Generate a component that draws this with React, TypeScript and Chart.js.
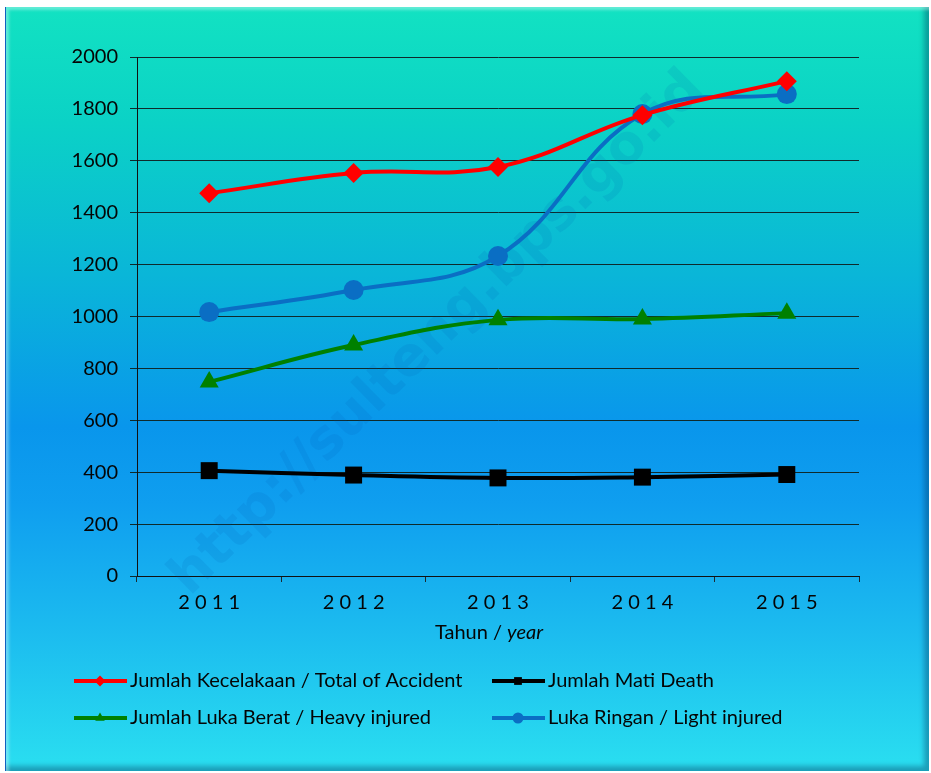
import { useEffect, useRef } from "react";
import { Chart, registerables } from "chart.js";

Chart.register(...registerables);

const years = ["2011", "2012", "2013", "2014", "2015"];
const totalAccident = [1475, 1553, 1576, 1776, 1907];
const deaths = [406, 389, 378, 381, 391];
const heavyInjured = [748, 890, 987, 990, 1013];
const lightInjured = [1017, 1102, 1233, 1780, 1857];
const yTickValues = [0, 200, 400, 600, 800, 1000, 1200, 1400, 1600, 1800, 2000];
const seriesLabels = [
  "Jumlah Kecelakaan / Total of Accident",
  "Jumlah Mati Death",
  "Jumlah Luka Berat / Heavy injured",
  "Luka Ringan / Light injured",
];
const axisTitleMain = "Tahun / ";
const axisTitleItalic = "year";
const watermarkText = "http://sulteng.bps.go.id";

const FONT = "Lato, 'Open Sans', sans-serif";
const FS = 20;

function drawMarker(ctx: CanvasRenderingContext2D, style: string, x: number, y: number, r: number, color: string) {
  ctx.save();
  ctx.fillStyle = color;
  ctx.beginPath();
  if (style === "rectRot") {
    ctx.moveTo(x, y - r);
    ctx.lineTo(x + r, y);
    ctx.lineTo(x, y + r);
    ctx.lineTo(x - r, y);
    ctx.closePath();
  } else if (style === "rect") {
    const s = r * Math.SQRT1_2;
    ctx.rect(x - s, y - s, 2 * s, 2 * s);
  } else if (style === "triangle") {
    ctx.moveTo(x, y - r);
    ctx.lineTo(x + r * 0.866, y + r * 0.5);
    ctx.lineTo(x - r * 0.866, y + r * 0.5);
    ctx.closePath();
  } else {
    ctx.arc(x, y, r, 0, Math.PI * 2);
  }
  ctx.fill();
  ctx.restore();
}

const decorPlugin = {
  id: "decor",
  beforeDatasetsDraw(chart: any) {
    const ctx = chart.ctx as CanvasRenderingContext2D;
    ctx.save();
    ctx.translate(438, 334);
    ctx.rotate(-0.775);
    ctx.font = `bold 54px 'DejaVu Sans', sans-serif`;
    ctx.fillStyle = "rgba(0, 80, 170, 0.11)";
    ctx.textAlign = "center";
    ctx.textBaseline = "middle";
    ctx.fillText(watermarkText, 0, 0);
    ctx.restore();
  },
  afterDraw(chart: any) {
    const ctx = chart.ctx as CanvasRenderingContext2D;
    ctx.save();
    // axis title
    ctx.font = `${FS}px ${FONT}`;
    const w1 = ctx.measureText(axisTitleMain).width;
    ctx.font = `italic ${FS}px ${FONT}`;
    const w2 = ctx.measureText(axisTitleItalic).width;
    const startX = 489 - (w1 + w2) / 2;
    ctx.fillStyle = "#050505";
    ctx.textBaseline = "middle";
    ctx.textAlign = "left";
    ctx.font = `${FS}px ${FONT}`;
    ctx.fillText(axisTitleMain, startX, 633);
    ctx.font = `italic ${FS}px ${FONT}`;
    ctx.fillText(axisTitleItalic, startX + w1, 633);

    // legend
    const colX = [74, 492];
    const rowY = [681, 718];
    chart.data.datasets.forEach((ds: any, i: number) => {
      const x = colX[i % 2];
      const y = rowY[Math.floor(i / 2)];
      ctx.strokeStyle = ds.borderColor;
      ctx.lineWidth = 4;
      ctx.beginPath();
      ctx.moveTo(x, y);
      ctx.lineTo(x + 53, y);
      ctx.stroke();
      drawMarker(ctx, ds.pointStyle, x + 26, y, 5.5, ds.pointBackgroundColor);
      ctx.fillStyle = "#050505";
      ctx.font = `${FS}px ${FONT}`;
      ctx.textAlign = "left";
      ctx.textBaseline = "middle";
      ctx.fillText(ds.label, x + 56, y);
    });
    ctx.restore();
  },
};

export default function App() {
  const ref = useRef<HTMLCanvasElement | null>(null);

  useEffect(() => {
    if (!ref.current) return;
    const mk = (label: string, data: number[], color: string, style: string, radius: number) => ({
      label,
      data,
      borderColor: color,
      backgroundColor: color,
      pointBackgroundColor: color,
      pointBorderColor: color,
      pointStyle: style,
      pointRadius: radius,
      pointBorderWidth: 0,
      borderWidth: 4,
      tension: 0.4,
      fill: false,
    });
    const chart = new Chart(ref.current, {
      type: "line",
      data: {
        labels: years,
        datasets: [
          mk(seriesLabels[0], totalAccident, "#ff0000", "rectRot", 10),
          mk(seriesLabels[1], deaths, "#000000", "rect", 12),
          mk(seriesLabels[2], heavyInjured, "#008000", "triangle", 11),
          mk(seriesLabels[3], lightInjured, "#0a6ec4", "circle", 10),
        ],
      },
      options: {
        animation: false,
        responsive: false,
        maintainAspectRatio: false,
        layout: { padding: { left: 60, top: 57, right: 72, bottom: 120 } },
        plugins: {
          legend: { display: false },
          tooltip: { enabled: false },
          title: { display: false },
        },
        scales: {
          x: {
            offset: true,
            grid: {
              offset: true,
              drawOnChartArea: false,
              drawTicks: true,
              tickLength: 6,
              color: "#1a2a30",
            },
            border: { display: true, color: "#111", width: 1 },
            ticks: {
              color: "#050505",
              padding: 9,
              font: { family: FONT, size: FS },
              callback: function (this: any, v: any, i: number) {
                return years[i].split("").join(" ");
              },
            },
            afterFit(scale: any) {
              scale.height = 77;
            },
          },
          y: {
            min: 0,
            max: 2000,
            afterBuildTicks(scale: any) {
              scale.ticks = yTickValues.map((v) => ({ value: v }));
            },
            grid: {
              color: "#0f2a2c",
              lineWidth: 1,
              tickLength: 7,
            },
            border: { display: true, color: "#111", width: 1 },
            ticks: {
              color: "#050505",
              padding: 12,
              font: { family: FONT, size: FS },
              callback: (v: any) => String(v),
            },
            afterFit(scale: any) {
              scale.width = 77;
            },
          },
        },
      },
      plugins: [decorPlugin],
    });
    return () => chart.destroy();
  }, []);

  return (
    <div
      style={{
        position: "fixed",
        left: 0,
        top: 0,
        width: 931,
        height: 773,
        background: "#ffffff",
        overflow: "hidden",
      }}
    >
      <div
        style={{
          position: "absolute",
          left: 6,
          top: 7,
          width: 923,
          height: 764,
          background:
            "linear-gradient(to bottom, #12e2c2 0%, #0bd2c6 15%, #0ab6d8 35%, #0996ec 55%, #0f9eef 65%, #1cbcef 82%, #2adff0 100%)",
          boxShadow:
            "inset 3px 3px 3px rgba(255,255,255,0.35), inset -5px -5px 5px rgba(0,40,80,0.35), -1px 0 0 #1060c0",
        }}
      />
      <canvas
        ref={ref}
        width={931}
        height={773}
        style={{ position: "absolute", left: 0, top: 0, width: 931, height: 773 }}
      />
    </div>
  );
}
